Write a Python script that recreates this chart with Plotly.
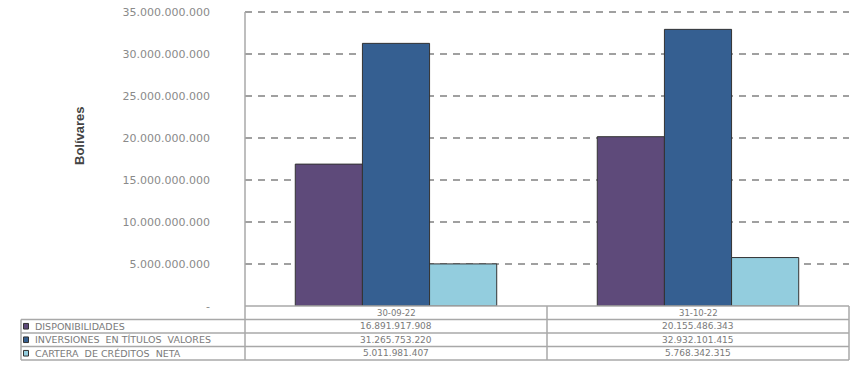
import plotly.graph_objects as go

categories = ["30-09-22", "31-10-22"]
series_names = ["DISPONIBILIDADES", "INVERSIONES  EN TÍTULOS  VALORES", "CARTERA  DE CRÉDITOS  NETA"]
disponibilidades = [16891917908, 20155486343]
inversiones = [31265753220, 32932101415]
cartera = [5011981407, 5768342315]
series_values = [disponibilidades, inversiones, cartera]
colors = ["#5E4A7A", "#355F91", "#93CDDE"]
tick_values = [0, 5e9, 10e9, 15e9, 20e9, 25e9, 30e9, 35e9]
tick_labels = ["-", "5.000.000.000", "10.000.000.000", "15.000.000.000", "20.000.000.000",
               "25.000.000.000", "30.000.000.000", "35.000.000.000"]

W, H = 862, 370
OFF = 0  # page body margin removed by post_script
def px(x):
    return (x - OFF) / W
def py(y):
    return 1 - (y - OFF) / H

def fmt(v):
    return f"{v:,}".replace(",", ".")

fig = go.Figure()
for name, vals, col in zip(series_names, series_values, colors):
    fig.add_trace(go.Bar(x=categories, y=vals, name=name, marker_color=col,
                         marker_line_color="#333333", marker_line_width=1))

plot_left, plot_right, plot_bottom = 245, 849, 306
ymax = 35.15e9
plot_top = plot_bottom - 294 * ymax / 35e9
row_lines = [306, 319.5, 333, 346.5, 360]
table_left = 21
grid_col = "#a0a0a0"
line_col = "#a8a8a8"
txt_col = "#7a7a7a"

shapes = []
shapes.append(dict(type="line", xref="paper", yref="paper", x0=px(plot_left), x1=px(plot_right),
                   y0=py(row_lines[0]), y1=py(row_lines[0]), line=dict(color=line_col, width=1.5)))
for yl in row_lines[1:]:
    shapes.append(dict(type="line", xref="paper", yref="paper", x0=px(table_left), x1=px(plot_right),
                       y0=py(yl), y1=py(yl), line=dict(color=line_col, width=1.5)))
shapes.append(dict(type="line", xref="paper", yref="paper", x0=px(table_left), x1=px(table_left),
                   y0=py(row_lines[1]), y1=py(row_lines[-1]), line=dict(color=line_col, width=1.5)))
for xv in [plot_left, plot_right]:
    shapes.append(dict(type="line", xref="paper", yref="paper", x0=px(xv), x1=px(xv),
                       y0=py(row_lines[0]), y1=py(row_lines[-1]), line=dict(color=line_col, width=1.5)))
shapes.append(dict(type="line", xref="x", yref="paper", x0=0.5, x1=0.5,
                   y0=py(row_lines[0]), y1=py(row_lines[-1]), line=dict(color=line_col, width=1.5)))
shapes.append(dict(type="line", xref="paper", yref="y", x0=px(plot_left), x1=px(plot_left),
                   y0=0, y1=35e9, line=dict(color=line_col, width=1.5)))

annotations = []
annotations.append(dict(text="<b>Bolívares</b>", x=px(79), y=py(136), xref="paper", yref="paper",
                        xanchor="center", yanchor="middle",
                        textangle=-90, showarrow=False,
                        font=dict(family="Liberation Sans Narrow, Liberation Sans, Arial", size=13, color="#444444")))
for c in categories:
    annotations.append(dict(text=c, x=c, xref="x", y=py((row_lines[0] + row_lines[1]) / 2), yref="paper",
                            xanchor="center", yanchor="middle",
                            showarrow=False, font=dict(family="DejaVu Sans", size=8.5, color=txt_col)))
for i, (name, vals, col) in enumerate(zip(series_names, series_values, colors)):
    yc = (row_lines[i + 1] + row_lines[i + 2]) / 2
    annotations.append(dict(text=name, x=px(33), xanchor="left", y=py(yc), yanchor="middle",
                            yref="paper", xref="paper",
                            showarrow=False, font=dict(family="DejaVu Sans", size=9.5, color=txt_col)))
    shapes.append(dict(type="rect", xref="paper", yref="paper", x0=px(23.5), x1=px(28.5),
                       y0=py(yc + 2.8), y1=py(yc - 2.8), fillcolor=col, line=dict(color="#333333", width=1)))
    for c, v in zip(categories, vals):
        annotations.append(dict(text=fmt(v), x=c, xref="x", y=py(yc), yref="paper",
                                xanchor="center", yanchor="middle",
                                showarrow=False, font=dict(family="DejaVu Sans", size=9, color=txt_col)))

fig.update_layout(
    width=W, height=H,
    margin=dict(l=0, r=0, t=0, b=0, pad=0, autoexpand=False),
    paper_bgcolor="white", plot_bgcolor="white",
    barmode="group", bargap=0.333, bargroupgap=0,
    showlegend=False,
    xaxis=dict(type="category", domain=[px(plot_left), px(plot_right)], showticklabels=False, showgrid=False,
               zeroline=False, showline=False, ticks="", automargin=False),
    yaxis=dict(domain=[py(plot_bottom), py(plot_top)], range=[0, ymax], tickvals=tick_values,
               ticktext=tick_labels, showgrid=True, gridcolor=grid_col, griddash="7px,6px", gridwidth=1.5,
               zeroline=False, showline=False, ticks="", ticklabelstandoff=34, automargin=False,
               ticklabeloverflow="allow",
               tickfont=dict(family="DejaVu Sans", size=11, color="#8a8a8a")),
    shapes=shapes, annotations=annotations,
)
fig.write_html("out.html", config={"displayModeBar": False},
               post_script="document.body.style.margin='0';document.body.style.padding='0';")
